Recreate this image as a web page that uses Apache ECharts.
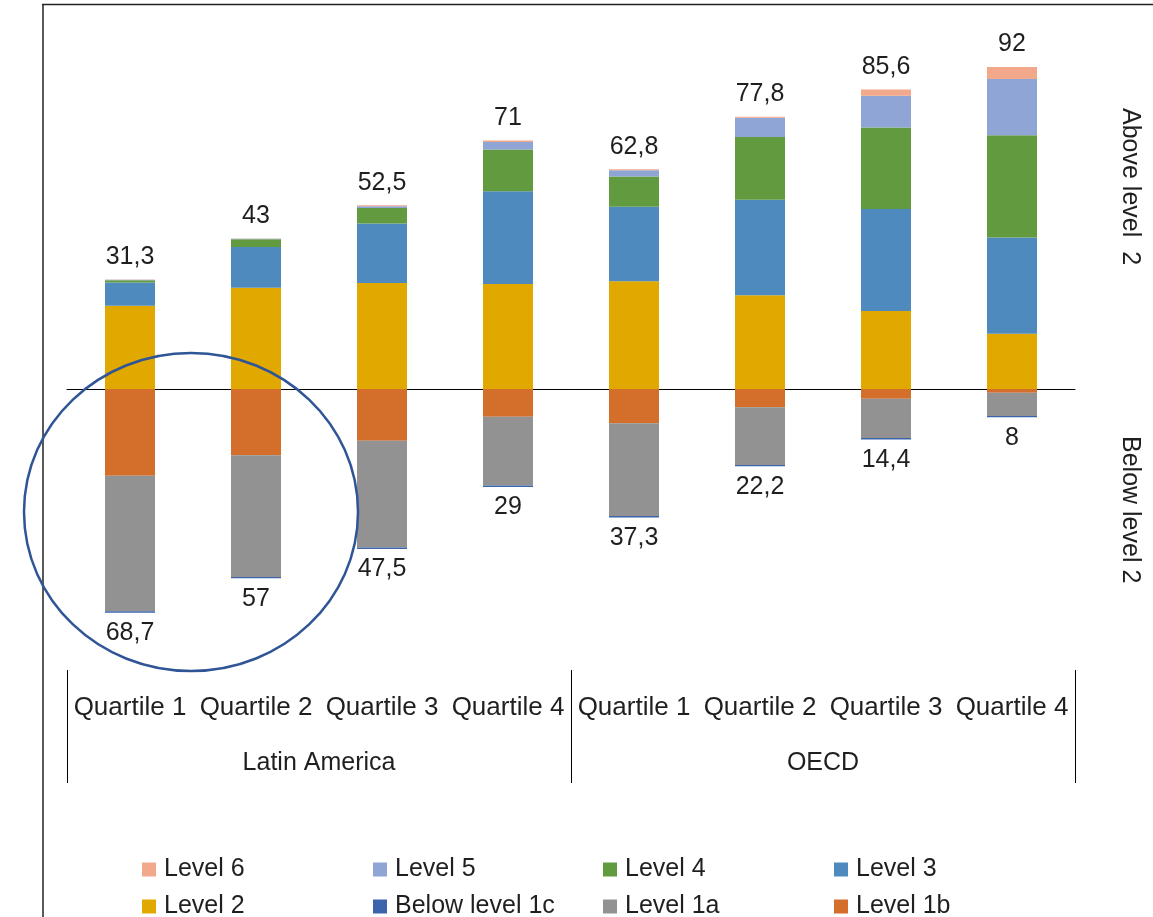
<!DOCTYPE html>
<html>
<head>
<meta charset="utf-8">
<script src="https://cdn.jsdelivr.net/npm/echarts@6/dist/echarts.min.js"></script>
<style>
  html, body { margin: 0; padding: 0; background: #fff; }
  #chart { width: 1153px; height: 917px; }
</style>
</head>
<body>
<div id="chart"></div>
<script>
const categories = ['Quartile 1', 'Quartile 2', 'Quartile 3', 'Quartile 4',
                    'Quartile 1', 'Quartile 2', 'Quartile 3', 'Quartile 4'];
const groups = ['Latin America', 'OECD'];

// above level 2 (stacked upward)
const level2 = [23.8, 28.9, 30.3, 30.0, 30.8, 26.8, 22.3, 15.8];
const level3 = [6.6, 11.7, 17.0, 26.5, 21.3, 27.3, 29.1, 27.5];
const level4 = [0.7, 2.2, 4.4, 11.9, 8.6, 17.9, 23.3, 29.2];
const level5 = [0.1, 0.1, 0.5, 2.2, 1.8, 5.5, 9.1, 16.1];
const level6 = [0.1, 0.1, 0.3, 0.4, 0.3, 0.3, 1.8, 3.4];

// below level 2 (stacked downward)
const level1b = [-24.8, -18.9, -14.8, -7.9, -9.8, -5.2, -2.8, -1.1];
const level1a = [-38.7, -34.8, -30.5, -19.7, -26.5, -16.5, -11.2, -6.6];
const below1c = [-0.4, -0.4, -0.4, -0.4, -0.4, -0.4, -0.4, -0.4];

// printed totals
const aboveTotals = [31.3, 43, 52.5, 71, 62.8, 77.8, 85.6, 92];
const belowTotals = [68.7, 57, 47.5, 29, 37.3, 22.2, 14.4, 8];

const font = '"Liberation Sans", Arial, sans-serif';
const fmt = v => String(v).replace('.', ',');

const colors = {
    'Level 6': '#f2a88a',
    'Level 5': '#8ea5d5',
    'Level 4': '#629b3f',
    'Level 3': '#4e8abd',
    'Level 2': '#e1a900',
    'Below level 1c': '#3b64ad',
    'Level 1a': '#929292',
    'Level 1b': '#d46e2b'
};

function bar(name, data, label) {
    return {
        name: name,
        type: 'bar',
        stack: 'all',
        xAxisIndex: 0,
        yAxisIndex: 0,
        barWidth: 50,
        data: data,
        itemStyle: { color: colors[name] },
        label: label || { show: false }
    };
}

const series = [
    bar('Level 2', level2),
    bar('Level 3', level3),
    bar('Level 4', level4),
    bar('Level 5', level5),
    bar('Level 6', level6, {
        show: true, position: 'top', distance: 10,
        fontFamily: font, fontSize: 25, color: '#1f1f1f',
        formatter: p => fmt(aboveTotals[p.dataIndex])
    }),
    bar('Level 1b', level1b),
    bar('Level 1a', level1a),
    bar('Below level 1c', below1c, {
        show: true, position: 'bottom', distance: 8,
        fontFamily: font, fontSize: 25, color: '#1f1f1f',
        formatter: p => fmt(belowTotals[p.dataIndex])
    })
];

// legend laid out as 4 columns x 2 rows
const legendOrder = ['Level 6', 'Level 5', 'Level 4', 'Level 3',
                     'Level 2', 'Below level 1c', 'Level 1a', 'Level 1b'];
const colX = [137, 368, 598, 829];
const rowY = [852, 889];
const legends = legendOrder.map((name, i) => ({
    data: [name],
    left: colX[i % 4],
    top: rowY[Math.floor(i / 4)],
    itemWidth: 14,
    itemHeight: 14,
    icon: 'rect',
    selectedMode: false,
    textStyle: { fontFamily: font, fontSize: 25, color: '#1f1f1f', padding: [0, 0, 0, 3] }
}));

const myChart = echarts.init(document.getElementById('chart'));
const option = {
    animation: false,
    backgroundColor: '#fff',
    legend: legends,
    grid: [
        { left: 67, right: 78, top: 39, height: 630 },
        { left: 67, right: 78, top: 669, height: 1 }
    ],
    xAxis: [
        {
            type: 'category', data: categories, gridIndex: 0, position: 'bottom',
            axisLine: { show: false, onZero: false },
            axisTick: { show: false },
            axisLabel: { interval: 0, margin: 26, fontFamily: font, fontSize: 26, color: '#1f1f1f' }
        },
        {
            type: 'category', data: categories, gridIndex: 0, position: 'top',
            axisLine: { show: true, onZero: true, lineStyle: { color: '#000', width: 1 } },
            axisTick: { show: false },
            axisLabel: { show: false }
        },
        {
            type: 'category', data: groups, gridIndex: 1, position: 'bottom',
            axisLine: { show: false },
            axisTick: { show: true, length: 113, lineStyle: { color: '#000', width: 1 } },
            axisLabel: { margin: 81, fontFamily: font, fontSize: 25, color: '#1f1f1f' }
        }
    ],
    yAxis: [
        {
            type: 'value', gridIndex: 0, min: -80, max: 100, interval: 20,
            axisLine: { show: false }, axisTick: { show: false },
            axisLabel: { show: false }, splitLine: { show: false }
        },
        {
            type: 'value', gridIndex: 1, show: false
        }
    ],
    series: series,
    graphic: [
        // outer frame
        { type: 'line', shape: { x1: 43, y1: 4, x2: 43, y2: 917 }, style: { stroke: '#222', lineWidth: 1.5 } },
        { type: 'line', shape: { x1: 42, y1: 4.5, x2: 1153, y2: 4.5 }, style: { stroke: '#222', lineWidth: 1.5 } },
        // highlight circle
        {
            type: 'ellipse', shape: { cx: 191, cy: 512, rx: 167, ry: 159 },
            style: { fill: 'none', stroke: '#2f5597', lineWidth: 2.5 }, z: 10
        },
        // side notes
        {
            type: 'text', x: 1142, y: 108, rotation: -Math.PI / 2,
            style: { text: 'Above level  2', fontFamily: font, fontSize: 25, fill: '#1f1f1f' }
        },
        {
            type: 'text', x: 1142, y: 436, rotation: -Math.PI / 2,
            style: { text: 'Below level 2', fontFamily: font, fontSize: 25, fill: '#1f1f1f' }
        }
    ]
};
myChart.setOption(option);
</script>
</body>
</html>
